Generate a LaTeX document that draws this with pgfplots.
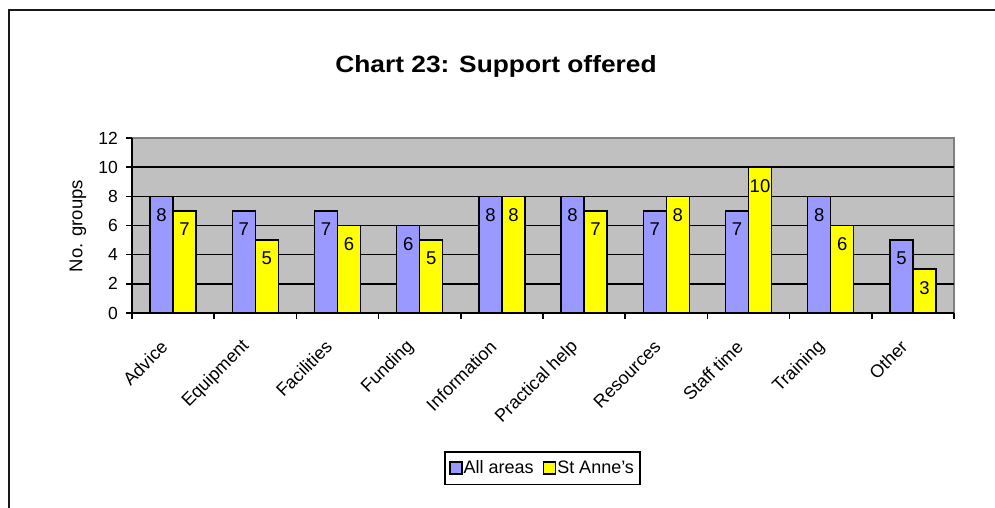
\documentclass[border=0pt]{standalone}
\usepackage{pgfplots}
\pgfplotsset{compat=1.18}
\usepackage{fontspec}
\setmainfont{Liberation Sans}
\newfontfamily\titlefont[FakeStretch=1.12]{Liberation Sans}

\definecolor{barblue}{HTML}{9999FF}
\definecolor{baryellow}{HTML}{FFFF00}
\definecolor{plotgray}{HTML}{C0C0C0}
\definecolor{bordergray}{HTML}{808080}

\pgfplotstableread{
idx all stanne
0 8 7
1 7 5
2 7 6
3 6 5
4 8 8
5 8 7
6 7 8
7 7 10
8 8 6
9 5 3
}\supportdata

\begin{document}
\begin{tikzpicture}[x=1pt,y=1pt]
\useasboundingbox (0,0) rectangle (995,508);
% outer chart frame
\draw[line width=2pt, black!90] (9,-5) -- (9,498) -- (1000,498);
% title
\node[font=\titlefont\fontsize{23.5}{27}\selectfont\bfseries] at (496,442) {Chart 23: Support offered};
% y axis title
\node[font=\fontsize{18.5}{21}\selectfont, rotate=90] at (78,282) {No. groups};

\begin{axis}[
  at={(132pt,195pt)}, anchor=south west,
  scale only axis, width=822pt, height=175pt,
  xmin=-0.5, xmax=9.5, ymin=0, ymax=12,
  ybar=0pt, bar width=23pt,
  axis background/.style={fill=plotgray, draw=bordergray, line width=1.5pt},
  axis x line*=bottom, axis y line*=left,
  axis line style={line width=1.8pt, black, -},
  xtick={0,...,9},
  xticklabels={Advice,Equipment,Facilities,Funding,Information,Practical help,Resources,Staff time,Training,Other},
  major x tick style={draw=none},
  minor xtick={-0.5,0.5,...,9.5},
  minor x tick style={line width=1.5pt, black},
  minor tick length=6pt,
  ytick={0,2,...,10},
  extra y ticks={12},
  extra y tick style={grid=none},
  ymajorgrids,
  major grid style={line width=1.5pt, black},
  major y tick style={line width=1.5pt, black},
  major tick length=6pt,
  tick align=outside,
  xticklabel style={xshift=-8pt, yshift=-24pt, rotate=45, anchor=east, font=\fontsize{18}{21}\selectfont, inner sep=1pt},
  yticklabel style={xshift=-5pt, font=\fontsize{17.5}{19}\selectfont, inner sep=3pt},
  /pgf/number format/assume math mode=true,
  nodes near coords,
  every node near coord/.append style={anchor=north, yshift=-8pt, font=\fontsize{18.5}{21}\selectfont, black},
  legend style={at={(0.4995,-0.886)}, anchor=center, legend columns=2, draw=black, line width=1.5pt,
    font=\fontsize{18}{20}\selectfont, inner xsep=4pt, inner ysep=7pt,
    /tikz/every even column/.append style={column sep=7pt},
    /tikz/every odd column/.append style={column sep=-1pt}},
  legend image code/.code={\draw[#1, draw=black, line width=1.5pt] (0pt,-6pt) rectangle (12pt,6pt);},
]
\addplot[fill=barblue, draw=black, line width=1.5pt] table[x=idx, y=all] {\supportdata};
\addplot[fill=baryellow, draw=black, line width=1.5pt] table[x=idx, y=stanne] {\supportdata};
\legend{All areas, St Anne's}
\end{axis}
\end{tikzpicture}
\end{document}
